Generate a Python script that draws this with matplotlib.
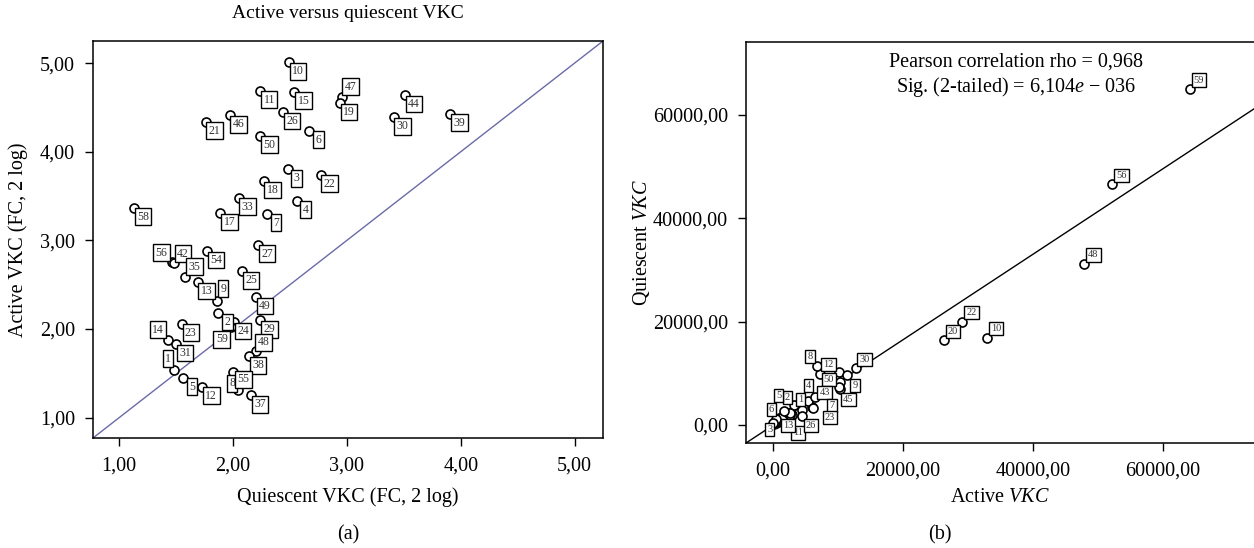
import matplotlib
matplotlib.use('Agg')
import matplotlib.pyplot as plt
from matplotlib.ticker import FuncFormatter

plt.rcParams['font.family'] = ['Liberation Serif', 'DejaVu Serif']
plt.rcParams['mathtext.fontset'] = 'custom'
plt.rcParams['mathtext.rm'] = 'Liberation Serif'
plt.rcParams['mathtext.it'] = 'Liberation Serif:italic'

# panel (a): quiescent vs active VKC (FC, 2 log)
ids_a = [10, 11, 15, 26, 6, 46, 21, 50, 3, 22, 18, 47, 19, 44, 30, 39,
         58, 33, 17, 7, 4, 56, 42, 54, 27, 35, 25, 13, 9, 49, 2, 24, 59,
         29, 48, 38, 14, 23, 31, 1, 5, 12, 8, 55, 37]
quiescent_a = [2.49, 2.24, 2.54, 2.44, 2.67, 1.97, 1.76, 2.24, 2.48, 2.77, 2.27, 2.96, 2.94, 3.51, 3.41, 3.91,
               1.13, 2.05, 1.89, 2.30, 2.56, 1.46, 1.48, 1.77, 2.22, 1.58, 2.08, 1.69, 1.86, 2.20, 1.87, 2.01, 1.98,
               2.24, 2.20, 2.14, 1.43, 1.55, 1.50, 1.48, 1.56, 1.73, 2.00, 2.04, 2.16]
active_a = [5.01, 4.69, 4.68, 4.45, 4.24, 4.41, 4.34, 4.18, 3.80, 3.74, 3.67, 4.62, 4.55, 4.64, 4.39, 4.43,
            3.37, 3.48, 3.31, 3.30, 3.45, 2.76, 2.75, 2.88, 2.95, 2.59, 2.65, 2.53, 2.32, 2.36, 2.18, 2.08, 2.02,
            2.10, 1.75, 1.69, 1.88, 2.06, 1.83, 1.54, 1.45, 1.35, 1.51, 1.31, 1.25]

# panel (b): raw values with regression line
ids_b = [59, 56, 48, 22, 20, 10, 30, 12, 8, 50, 9, 43, 45, 7, 23, 4,
         11, 26, 13, 1, 2, 5, 6, 3]
active_b = [64170, 52230, 47930, 29190, 26330, 32980, 12750, 7220, 6820, 10200, 11430, 10290, 10400, 10200, 6210, 6560,
            4520, 4520, 2720, 3330, 2720, 1690, 570, 0]
quiescent_b = [64990, 46560, 31150, 19980, 16410, 16880, 10980, 9890, 11500, 10200, 9700, 8260, 6980, 7290, 3220, 5350,
               2910, 1800, 1990, 3940, 2390, 2770, 1220, 450]
# unlabelled points hidden in the dense cluster near the origin
active_extra = [200, 350, 500, 650, 800, 900, 1100, 1200, 1400, 1500, 1700, 1800, 2000, 2200,
                2400, 2600, 2800, 3000, 300, 1000, 1600, 2300, 6050, 5480]
quiescent_extra = [150, 400, 300, 700, 550, 900, 800, 1100, 1000, 1300, 1500, 1200, 1700, 1900,
                   1600, 2100, 2400, 2000, 600, 1300, 1800, 2300, 3550, 4710]
fit_slope = 0.828
fit_intercept = -110

# label box offsets (pixels) where not the default
offsets_a = {47: (8, 10), 56: (-10, 9), 42: (9, 9), 35: (9, 10), 9: (6, 12), 14: (-10, 10),
             1: (-6, 11), 8: (-1, -11), 55: (6, 11), 59: (-9, -12), 48: (8, 9)}
offsets_b = {8: (-7, 9), 50: (-10, -7), 9: (8, -11), 43: (-15, -10), 45: (8, -11), 7: (-7, -18),
             23: (17, -9), 3: (-3, -7), 6: (-5, 9), 5: (-5, 15), 2: (-3, 15), 1: (6, 5), 4: (-7, 12),
             13: (-2, -11), 26: (9, -10), 11: (-4, -23)}

W, H = 1254, 548
fig = plt.figure(figsize=(W / 100, H / 100), dpi=100)


def box(l, r, t, b):
    return [l / W, 1 - b / H, (r - l) / W, (b - t) / H]


def comma(fmt):
    return FuncFormatter(lambda v, p: fmt.format(v).replace('.', ','))


fs = 14.5
lbl_box = dict(boxstyle='square,pad=0.2', fc='white', ec='black', lw=1.0)

# ---- (a)
ax1 = fig.add_axes(box(93, 603, 41, 438))
ax1.scatter(quiescent_a, active_a, s=42, facecolors='white', edgecolors='black', linewidths=1.2, zorder=3)
for i, xv, yv in zip(ids_a, quiescent_a, active_a):
    ax1.annotate(str(i), (xv, yv), xytext=offsets_a.get(i, (9, -9)), textcoords='offset pixels',
                 ha='center', va='center', fontsize=8.5, color='#333333', bbox=lbl_box, zorder=4)
ax1.axline((1, 1), slope=1, color='#6a6aa8', lw=1, zorder=2)
ax1.set_xlim(0.77, 5.25)
ax1.set_ylim(0.77, 5.25)
ax1.set_xticks([1, 2, 3, 4, 5])
ax1.set_yticks([1, 2, 3, 4, 5])
ax1.xaxis.set_major_formatter(comma('{:.2f}'))
ax1.yaxis.set_major_formatter(comma('{:.2f}'))
ax1.tick_params(labelsize=fs, length=6, width=1, pad=7)
ax1.set_xlabel('Quiescent VKC (FC, 2 log)', fontsize=fs, va='center')
ax1.set_ylabel('Active VKC (FC, 2 log)', fontsize=fs, va='center')
ax1.xaxis.set_label_coords(0.5, (438 - 497) / 397)
ax1.yaxis.set_label_coords((18 - 93) / 510, 0.5)
fig.text(348 / W, 1 - 13 / H, 'Active versus quiescent VKC', ha='center', va='center', fontsize=fs - 0.5)
for sp in ax1.spines.values():
    sp.set_linewidth(1.1)

# ---- (b)
ax2 = fig.add_axes(box(746, 1254, 42, 443))
ax2.scatter(active_extra, quiescent_extra, s=42, facecolors='white', edgecolors='black', linewidths=1.2, zorder=3)
ax2.scatter(active_b, quiescent_b, s=42, facecolors='white', edgecolors='black', linewidths=1.2, zorder=3)
for i, xv, yv in zip(ids_b, active_b, quiescent_b):
    ax2.annotate(str(i), (xv, yv), xytext=offsets_b.get(i, (9, 9)), textcoords='offset pixels',
                 ha='center', va='center', fontsize=7.5, color='#333333', bbox=lbl_box, zorder=4)
ax2.axline((0, fit_intercept), slope=fit_slope, color='black', lw=1, zorder=2)
ax2.set_xlim(-4086, 74000)
ax2.set_ylim(-3490, 74100)
ax2.set_xticks([0, 20000, 40000, 60000])
ax2.set_yticks([0, 20000, 40000, 60000])
ax2.xaxis.set_major_formatter(comma('{:.2f}'))
ax2.yaxis.set_major_formatter(comma('{:.2f}'))
ax2.tick_params(labelsize=fs, length=6, width=1, pad=7)
ax2.set_xlabel('Active $\\it{VKC}$', fontsize=fs, va='center')
ax2.set_ylabel('Quiescent $\\it{VKC}$', fontsize=fs, va='center')
ax2.xaxis.set_label_coords(0.5, (443 - 497) / 401)
ax2.yaxis.set_label_coords((641 - 746) / 508, 0.5)
ax2.spines['right'].set_visible(False)
for sp in ax2.spines.values():
    sp.set_linewidth(1.1)
ax2.text(1016 / W, 1 - 62 / H, 'Pearson correlation rho = 0,968', transform=fig.transFigure,
         ha='center', va='center', fontsize=fs)
ax2.text(1016 / W, 1 - 87 / H, 'Sig. (2-tailed) = 6,104$\\it{e}$ \u2212 036', transform=fig.transFigure,
         ha='center', va='center', fontsize=fs)

fig.text(348 / W, 1 - 535 / H, '(a)', ha='center', va='center', fontsize=fs)
fig.text(940 / W, 1 - 535 / H, '(b)', ha='center', va='center', fontsize=fs)

fig.savefig('out.png', dpi=100)
